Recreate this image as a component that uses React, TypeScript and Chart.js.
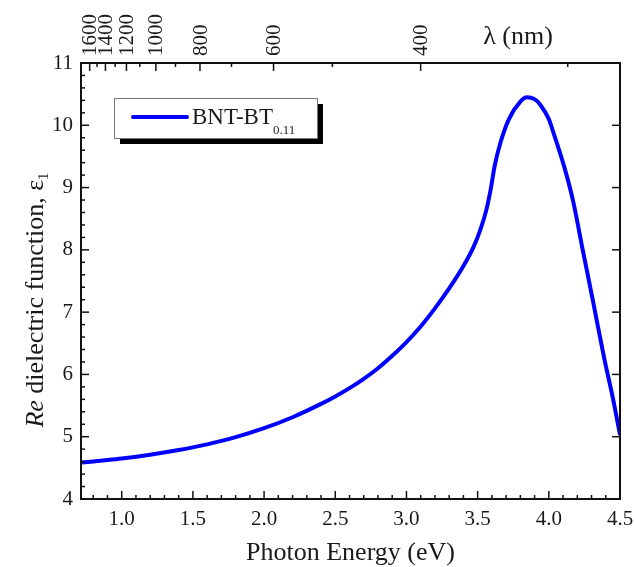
import { useEffect, useRef } from 'react';
import { Chart, registerables } from 'chart.js';

Chart.register(...registerables);

// ---- data ----
const ENERGY = [0.714, 0.8, 0.9, 1.0, 1.2, 1.4, 1.5, 1.6, 1.8, 2.0, 2.2, 2.4, 2.5, 2.6, 2.7, 2.8, 2.9, 3.0, 3.1, 3.2, 3.3, 3.4, 3.47, 3.52, 3.56, 3.59, 3.62, 3.66, 3.72, 3.8, 3.845, 3.9, 3.94, 4.0, 4.03, 4.11, 4.17, 4.24, 4.31, 4.39, 4.45, 4.5];
const EPS1 = [4.585, 4.603, 4.625, 4.65, 4.712, 4.786, 4.829, 4.877, 4.993, 5.137, 5.313, 5.527, 5.647, 5.78, 5.93, 6.10, 6.30, 6.52, 6.77, 7.06, 7.38, 7.74, 8.04, 8.33, 8.63, 8.95, 9.35, 9.72, 10.10, 10.38, 10.45, 10.42, 10.33, 10.10, 9.90, 9.32, 8.79, 7.98, 7.18, 6.25, 5.62, 5.03];

const X_MIN = 0.714;
const X_MAX = 4.5;
const Y_MIN = 4;
const Y_MAX = 11;
const X_TICKS = [1.0, 1.5, 2.0, 2.5, 3.0, 3.5, 4.0, 4.5];
const X_MINOR_STEP = 0.1;
const Y_TICKS = [4, 5, 6, 7, 8, 9, 10, 11];
const Y_MINOR_STEP = 0.2;
const WL_LABELS = [1600, 1400, 1200, 1000, 800, 600, 400];
const WL_MINOR = [1500, 1300, 1100, 900, 700, 500, 300];
const HC = 1239.84; // eV*nm

const SERIES_NAME = 'BNT-BT';
const SERIES_SUB = '0.11';
const X_TITLE = 'Photon Energy (eV)';
const Y_TITLE_ITALIC = 'Re';
const Y_TITLE_REST = ' dielectric function, ε';
const Y_TITLE_SUB = '1';
const TOP_TITLE = 'λ (nm)';

const FONT = '"Liberation Serif", "Times New Roman", serif';
const TEXT = '#1a1a1a';
const BLUE = '#0000ff';

const decorPlugin = {
  id: 'decor',
  afterDraw(chart: any) {
    const { ctx, chartArea: a } = chart;
    const xs = chart.scales.x;
    const x2 = chart.scales.x2;
    const ys = chart.scales.y;
    ctx.save();
    ctx.strokeStyle = '#111';
    ctx.lineWidth = 1.5;
    const line = (px1: number, py1: number, px2: number, py2: number) => {
      ctx.beginPath();
      ctx.moveTo(px1, py1);
      ctx.lineTo(px2, py2);
      ctx.stroke();
    };
    // bottom ticks
    for (let i = Math.ceil(X_MIN / X_MINOR_STEP); i * X_MINOR_STEP <= X_MAX + 1e-9; i++) {
      const v = i * X_MINOR_STEP;
      const major = X_TICKS.some((t) => Math.abs(t - v) < 1e-6);
      const x = xs.getPixelForValue(v);
      line(x, a.bottom, x, a.bottom - (major ? 8 : 4));
    }
    // top ticks (wavelength)
    WL_LABELS.forEach((w) => {
      const x = x2.getPixelForValue(HC / w);
      line(x, a.top, x, a.top + 8);
    });
    WL_MINOR.forEach((w) => {
      const x = x2.getPixelForValue(HC / w);
      line(x, a.top, x, a.top + 4);
    });
    // left ticks
    for (let i = Math.round(Y_MIN / Y_MINOR_STEP); i * Y_MINOR_STEP <= Y_MAX + 1e-9; i++) {
      const v = i * Y_MINOR_STEP;
      const major = Y_TICKS.some((t) => Math.abs(t - v) < 1e-6);
      const y = ys.getPixelForValue(v);
      line(a.left, y, a.left + (major ? 8 : 4), y);
    }
    // right ticks (major only)
    Y_TICKS.forEach((v) => {
      const y = ys.getPixelForValue(v);
      line(a.right, y, a.right - 8, y);
    });
    // frame
    ctx.lineWidth = 2;
    ctx.strokeRect(a.left, a.top, a.right - a.left, a.bottom - a.top);

    // top tick labels (rotated, reading upward)
    ctx.fillStyle = TEXT;
    ctx.font = `21px ${FONT}`;
    ctx.textAlign = 'left';
    ctx.textBaseline = 'middle';
    WL_LABELS.forEach((w) => {
      const x = x2.getPixelForValue(HC / w);
      ctx.save();
      ctx.translate(x, a.top - 7);
      ctx.rotate(-Math.PI / 2);
      ctx.fillText(String(w), 0, 1);
      ctx.restore();
    });

    // titles
    ctx.textBaseline = 'alphabetic';
    ctx.textAlign = 'center';
    ctx.font = `26px ${FONT}`;
    ctx.fillText(X_TITLE, (a.left + a.right) / 2, 560);
    ctx.fillText(TOP_TITLE, 518, 44);

    // y title (rotated, mixed styles)
    ctx.save();
    ctx.translate(43, (a.top + a.bottom) / 2 + 19);
    ctx.rotate(-Math.PI / 2);
    ctx.textAlign = 'left';
    ctx.font = `italic 26px ${FONT}`;
    const w1 = ctx.measureText(Y_TITLE_ITALIC).width;
    ctx.font = `26px ${FONT}`;
    const w2 = ctx.measureText(Y_TITLE_REST).width;
    ctx.font = `15px ${FONT}`;
    const w3 = ctx.measureText(Y_TITLE_SUB).width;
    let x0 = -(w1 + w2 + w3) / 2;
    ctx.font = `italic 26px ${FONT}`;
    ctx.fillText(Y_TITLE_ITALIC, x0, 0);
    x0 += w1;
    ctx.font = `26px ${FONT}`;
    ctx.fillText(Y_TITLE_REST, x0, 0);
    x0 += w2;
    ctx.font = `15px ${FONT}`;
    ctx.fillText(Y_TITLE_SUB, x0, 5);
    ctx.restore();

    // legend box with drop shadow
    const bx = 114, by = 98, bw = 203, bh = 40;
    ctx.fillStyle = '#000';
    ctx.fillRect(bx + 6, by + 6, bw, bh);
    ctx.fillStyle = '#fff';
    ctx.fillRect(bx, by, bw, bh);
    ctx.strokeStyle = '#777';
    ctx.lineWidth = 1;
    ctx.strokeRect(bx + 0.5, by + 0.5, bw, bh);
    ctx.strokeStyle = BLUE;
    ctx.lineWidth = 4;
    ctx.lineCap = 'round';
    line(133, 117, 187, 117);
    ctx.fillStyle = TEXT;
    ctx.textAlign = 'left';
    ctx.font = `23px ${FONT}`;
    ctx.fillText(SERIES_NAME, 192, 124);
    const nw = ctx.measureText(SERIES_NAME).width;
    ctx.font = `13px ${FONT}`;
    ctx.fillText(SERIES_SUB, 192 + nw, 134);
    ctx.restore();
  },
};

export default function App() {
  const ref = useRef<HTMLCanvasElement | null>(null);
  useEffect(() => {
    if (!ref.current) return;
    const tickFont = { family: FONT, size: 21 };
    const chart = new Chart(ref.current, {
      type: 'line',
      data: {
        datasets: [
          {
            label: SERIES_NAME,
            data: ENERGY.map((e, i) => ({ x: e, y: EPS1[i] })),
            borderColor: BLUE,
            backgroundColor: BLUE,
            borderWidth: 4,
            pointRadius: 0,
            cubicInterpolationMode: 'monotone',
            fill: false,
          },
        ],
      },
      options: {
        animation: false,
        responsive: true,
        maintainAspectRatio: false,
        layout: { padding: { left: 0, right: 14, top: 0, bottom: 0 } },
        plugins: { legend: { display: false }, tooltip: { enabled: false } },
        scales: {
          x: {
            type: 'linear',
            position: 'bottom',
            min: X_MIN,
            max: X_MAX,
            afterBuildTicks: (s: any) => {
              s.ticks = X_TICKS.map((v) => ({ value: v }));
            },
            afterFit: (s: any) => {
              s.height = 68;
              s.paddingLeft = 0;
              s.paddingRight = 0;
            },
            ticks: {
              callback: (v: any) => Number(v).toFixed(1),
              font: tickFont,
              color: TEXT,
              padding: 8,
              maxRotation: 0,
              autoSkip: false,
            },
            grid: { display: false, drawTicks: false },
            border: { display: false },
          },
          x2: {
            type: 'linear',
            position: 'top',
            min: X_MIN,
            max: X_MAX,
            afterBuildTicks: (s: any) => {
              s.ticks = WL_LABELS.map((w) => ({ value: HC / w }));
            },
            afterFit: (s: any) => {
              s.height = 63;
              s.paddingLeft = 0;
              s.paddingRight = 0;
            },
            ticks: { display: false },
            grid: { display: false, drawTicks: false },
            border: { display: false },
          },
          y: {
            type: 'linear',
            position: 'left',
            min: Y_MIN,
            max: Y_MAX,
            afterBuildTicks: (s: any) => {
              s.ticks = Y_TICKS.map((v) => ({ value: v }));
            },
            afterFit: (s: any) => {
              s.width = 81;
              s.paddingTop = 0;
              s.paddingBottom = 0;
            },
            ticks: {
              font: tickFont,
              color: TEXT,
              padding: 8,
            },
            grid: { display: false, drawTicks: false },
            border: { display: false },
          },
        },
      } as any,
      plugins: [decorPlugin],
    });
    return () => chart.destroy();
  }, []);
  return (
    <div style={{ position: 'absolute', left: 0, top: 0, width: 634, height: 567, background: '#fff' }}>
      <canvas ref={ref} />
    </div>
  );
}
